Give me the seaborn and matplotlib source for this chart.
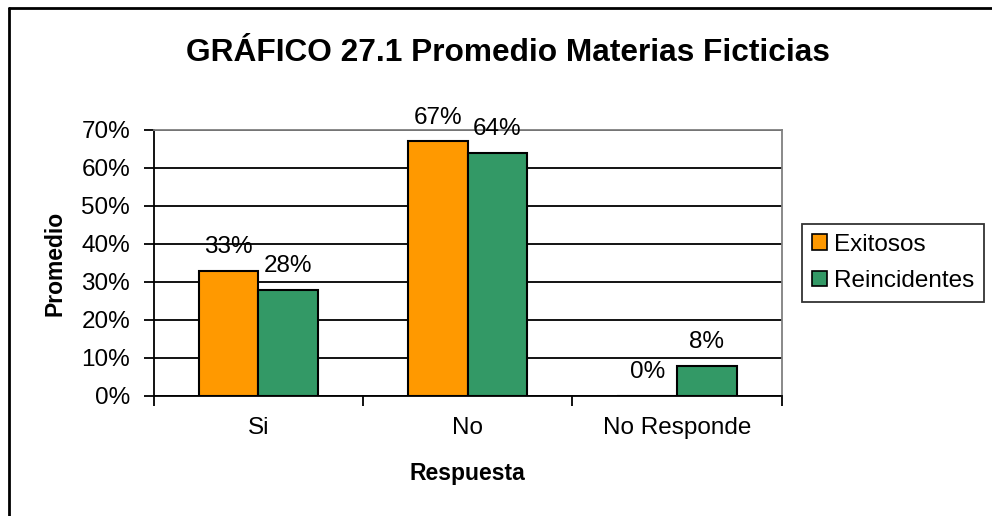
import matplotlib
matplotlib.use("Agg")
import matplotlib.pyplot as plt
from matplotlib.lines import Line2D
from matplotlib.ticker import FixedLocator, PercentFormatter
import seaborn as sns
import pandas as pd

# data
categories = ["Si", "No", "No Responde"]
exitosos = [33, 67, 0]
reincidentes = [28, 64, 8]
series_names = ["Exitosos", "Reincidentes"]
yticks = [0, 10, 20, 30, 40, 50, 60, 70]

df = pd.DataFrame({
    "Respuesta": categories * 2,
    "Promedio": exitosos + reincidentes,
    "Grupo": [series_names[0]] * 3 + [series_names[1]] * 3,
})

sns.set_theme(style="white")
plt.rcParams["font.family"] = ["Liberation Sans", "DejaVu Sans"]
plt.rcParams["text.color"] = "black"
plt.rcParams["axes.labelcolor"] = "black"
plt.rcParams["xtick.color"] = "black"
plt.rcParams["ytick.color"] = "black"

fig = plt.figure(figsize=(9.92, 5.16), dpi=100)
ax = fig.add_axes([0.155, 0.2326, 0.633, 0.5155])

palette = {"Exitosos": "#FF9900", "Reincidentes": "#339966"}
sns.barplot(data=df, x="Respuesta", y="Promedio", hue="Grupo", order=categories,
            hue_order=series_names, palette=palette, width=0.57, saturation=1,
            edgecolor="black", linewidth=1.5, ax=ax)

ax.set_ylim(0, 70)
ax.set_xlim(-0.5, 2.5)
ax.yaxis.set_major_locator(FixedLocator(yticks))
ax.yaxis.set_major_formatter(PercentFormatter(decimals=0))
ax.grid(axis="y", color="black", linewidth=1.3)
ax.set_axisbelow(True)

# excel style: ticks between categories
ax.set_xticks([0, 1, 2])
ax.set_xticks([-0.5, 0.5, 1.5, 2.5], minor=True)
ax.tick_params(axis="x", which="major", length=0, pad=15, labelsize=17.5)
ax.tick_params(axis="x", which="minor", length=7, width=1.3, direction="out")
ax.tick_params(axis="y", length=7, width=1.3, direction="out", labelsize=17.5, pad=10)
ax.tick_params(bottom=True, left=True, which="both")

for side in ["left", "bottom"]:
    ax.spines[side].set_color("black")
    ax.spines[side].set_linewidth(1.3)
for side in ["top", "right"]:
    ax.spines[side].set_color("#808080")
    ax.spines[side].set_linewidth(1.3)

for cont in ax.containers:
    labels = [f"{v:.0f}%" for v in cont.datavalues]
    ax.bar_label(cont, labels=labels, padding=9, fontsize=17.5)

ax.set_xlabel("Respuesta", fontsize=16.5, fontweight="bold", labelpad=17)
ax.set_ylabel("Promedio", fontsize=16.5, fontweight="bold", labelpad=11)
fig.suptitle("GRÁFICO 27.1 Promedio Materias Ficticias", fontsize=22.8,
             fontweight="bold", x=0.512, y=0.897, va="center")

leg = ax.legend(loc="center left", bbox_to_anchor=(1.033, 0.5), fontsize=17.5,
                frameon=True, fancybox=False, edgecolor="black",
                handlelength=0.6, handleheight=0.6, handletextpad=0.3,
                borderpad=0.4, labelspacing=0.6, borderaxespad=0)
leg.get_frame().set_linewidth(1.3)
for h in leg.legend_handles:
    h.set_edgecolor("black")
    h.set_linewidth(1.2)

# chart border (only left and top edges visible in reference)
fig.add_artist(Line2D([0.009, 0.009], [0, 0.985], transform=fig.transFigure,
                      color="black", linewidth=2))
fig.add_artist(Line2D([0.009, 1], [0.985, 0.985], transform=fig.transFigure,
                      color="black", linewidth=2))

fig.savefig("out.png", dpi=100)
